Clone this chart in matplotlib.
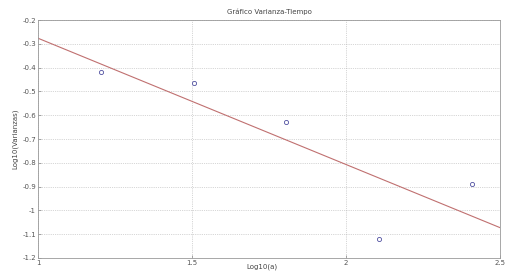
import numpy as np
import matplotlib
matplotlib.use("Agg")
import matplotlib.pyplot as plt

# log10 of window size vs log10 of variance
log_a = [1.204, 1.505, 1.806, 2.107, 2.408]
log_var = [-0.418, -0.465, -0.629, -1.12, -0.889]

x_ticks = [1, 1.5, 2, 2.5]
x_tick_labels = ["1", "1.5", "2", "2.5"]
y_ticks = [-1.2, -1.1, -1.0, -0.9, -0.8, -0.7, -0.6, -0.5, -0.4, -0.3, -0.2]
y_tick_labels = ["-1.2", "-1.1", "-1", "-0.9", "-0.8", "-0.7", "-0.6",
                 "-0.5", "-0.4", "-0.3", "-0.2"]

# least squares fit line
slope, intercept = np.polyfit(log_a, log_var, 1)
fit_x = np.array([1.0, 2.5])
fit_y = slope * fit_x + intercept

fig = plt.figure(figsize=(5.05, 2.73), dpi=100)
ax = fig.add_axes([38 / 505, 15 / 273, 462 / 505, 238 / 273])

ax.plot(log_a, log_var, linestyle="none", marker="o", markersize=3,
        markerfacecolor="none", markeredgecolor="#5050a0", markeredgewidth=0.6)
ax.plot(fit_x, fit_y, color="#c07070", linewidth=0.8)

ax.set_xlim(1, 2.5)
ax.set_ylim(-1.2, -0.2)
ax.set_xticks(x_ticks)
ax.set_xticklabels(x_tick_labels)
ax.set_yticks(y_ticks)
ax.set_yticklabels(y_tick_labels)
ax.tick_params(direction="in", length=2, width=0.5, labelsize=5,
               labelcolor="#555555", color="#888888", pad=1.5)
ax.grid(True, linestyle=":", linewidth=0.5, color="#b0b0b0")
for s in ax.spines.values():
    s.set_color("#999999")
    s.set_linewidth(0.6)

ax.set_title("Gráfico Varianza-Tiempo", fontsize=5, color="#444444", pad=4)
ax.set_xlabel("Log10(a)", fontsize=5, color="#444444")
ax.xaxis.set_label_coords(0.485, -0.022)
ax.set_ylabel("Log10(Varianzas)", fontsize=5, color="#444444", labelpad=3)

plt.savefig("out.png", dpi=100)
